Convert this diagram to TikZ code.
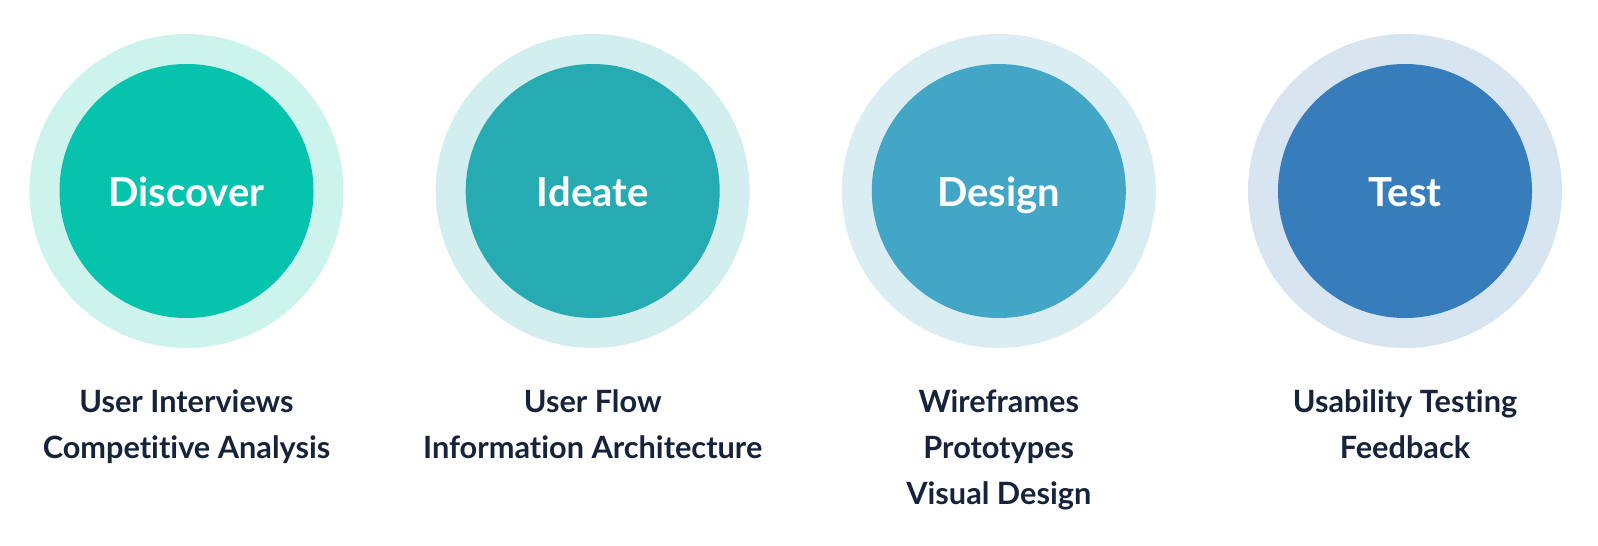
\documentclass[tikz,border=0pt]{standalone}
\usepackage{fontspec}
\setmainfont{Lato}[RawFeature=-liga]
\definecolor{ink}{HTML}{17223B}
\definecolor{discoverc}{HTML}{06C3AD}
\definecolor{discoverr}{HTML}{CCF3EC}
\definecolor{ideatec}{HTML}{27ABB3}
\definecolor{ideater}{HTML}{D3EEEF}
\definecolor{designc}{HTML}{43A6C6}
\definecolor{designr}{HTML}{DAEDF3}
\definecolor{testc}{HTML}{377DBB}
\definecolor{testr}{HTML}{D6E5F0}
\tikzset{
  ring/.style={circle, minimum size=314pt, inner sep=0pt},
  phase/.style={circle, minimum size=254pt, inner sep=0pt, text=white,
    font=\fontsize{40}{44}\selectfont\bfseries},
  tasks/.style={align=center, anchor=base, inner sep=0pt, text=ink,
    font=\fontsize{30.7}{46}\selectfont\bfseries}
}
\begin{document}
\begin{tikzpicture}[x=1pt, y=-1pt]
\useasboundingbox (0,0) rectangle (1598,546);
\node[ring, fill=discoverr] (discoverring) at (186.5,191) {};
\node[ring, fill=ideater] (ideatering) at (592.7,191) {};
\node[ring, fill=designr] (designring) at (998.8,191) {};
\node[ring, fill=testr] (testring) at (1405,191) {};
\node[phase, fill=discoverc] (discover) at (discoverring.center) {};
\node[phase, fill=ideatec] (ideate) at (ideatering.center) {};
\node[phase, fill=designc] (design) at (designring.center) {};
\node[phase, fill=testc] (test) at (testring.center) {};
\node[phase, anchor=base, minimum size=0pt] (discovertitle) at (186.5,206) {Discover};
\node[phase, anchor=base, minimum size=0pt] (ideatetitle) at (592.7,206) {Ideate};
\node[phase, anchor=base, minimum size=0pt] (designtitle) at (998.8,206) {Design};
\node[phase, anchor=base, minimum size=0pt] (testtitle) at (1405,206) {Test};
% base anchor sits on the last line
\node[tasks] (discovertasks) at (186.5,458) {User Interviews\\Competitive Analysis};
\node[tasks] (ideatetasks) at (592.7,458) {User Flow\\Information Architecture};
\node[tasks] (designtasks) at (998.8,504) {Wireframes\\Prototypes\\Visual Design};
\node[tasks] (testtasks) at (1405,458) {Usability Testing\\Feedback};
\end{tikzpicture}
\end{document}
